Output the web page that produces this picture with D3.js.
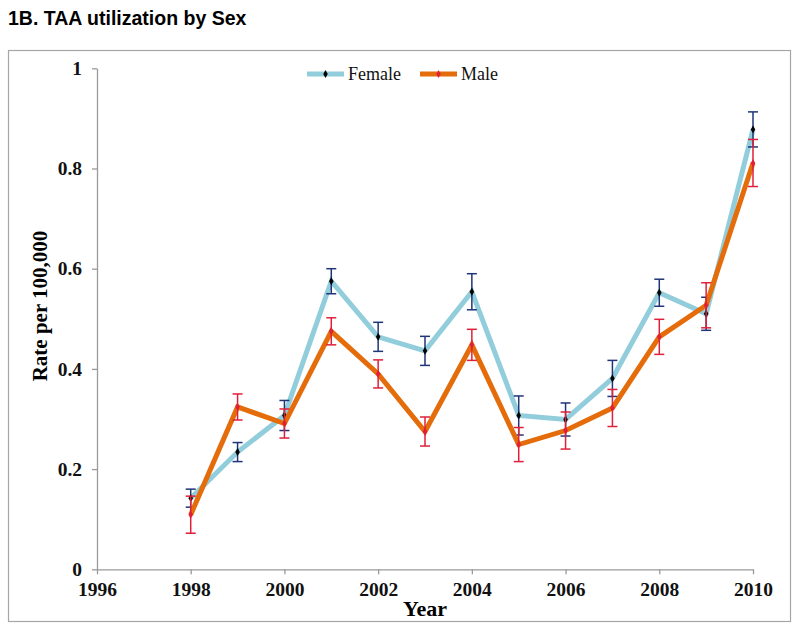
<!DOCTYPE html>
<html>
<head>
<meta charset="utf-8">
<script src="https://cdn.jsdelivr.net/npm/d3@7"></script>
<style>
  body { margin: 0; background: #fff; }
  svg { display: block; }
</style>
</head>
<body>
<svg id="chart" width="800" height="636"></svg>
<script>
var years = [1998, 1999, 2000, 2001, 2002, 2003, 2004, 2005, 2006, 2007, 2008, 2009, 2010];
var female = [0.142, 0.234, 0.307, 0.575, 0.464, 0.436, 0.554, 0.307, 0.299, 0.381, 0.552, 0.510, 0.878];
var femaleErr = [0.018, 0.019, 0.030, 0.025, 0.029, 0.029, 0.036, 0.039, 0.033, 0.036, 0.027, 0.033, 0.035];
var male = [0.109, 0.324, 0.291, 0.475, 0.390, 0.275, 0.448, 0.249, 0.277, 0.322, 0.464, 0.527, 0.811];
var maleErr = [0.037, 0.026, 0.029, 0.027, 0.028, 0.029, 0.031, 0.034, 0.037, 0.037, 0.035, 0.045, 0.047];
var xTicks = [1996, 1998, 2000, 2002, 2004, 2006, 2008, 2010];
var yTicks = [0, 0.2, 0.4, 0.6, 0.8, 1];

var svg = d3.select('#chart');
var axisColor = '#9a9a9a';
var tickFont = "'Liberation Serif', 'DejaVu Serif', serif";

// title and outer frame
svg.append('text')
    .attr('x', 8).attr('y', 25)
    .attr('font-family', "'Liberation Sans', Arial, sans-serif")
    .attr('font-weight', 'bold')
    .attr('font-size', 19.5)
    .text('1B. TAA utilization by Sex');

svg.append('rect')
    .attr('x', 8.5).attr('y', 50.5)
    .attr('width', 782).attr('height', 571)
    .attr('fill', 'none')
    .attr('stroke', '#a6a6a6')
    .attr('stroke-width', 1.2);

var x = d3.scaleLinear().domain([1996, 2010]).range([97, 753]);
var y = d3.scaleLinear().domain([0, 1]).range([569.3, 68.3]);

// axes
var xAxis = svg.append('g')
    .attr('transform', 'translate(0,' + y(0) + ')')
    .call(d3.axisBottom(x).tickValues(xTicks).tickFormat(d3.format('d')).tickSize(5).tickSizeOuter(0));
var yAxis = svg.append('g')
    .attr('transform', 'translate(' + x(1996) + ',0)')
    .call(d3.axisLeft(y).tickValues(yTicks).tickFormat(function(d) { return d === 0 || d === 1 ? d : d.toFixed(1); }).tickSize(5).tickSizeOuter(0));

[xAxis, yAxis].forEach(function(g) {
  g.select('.domain').attr('stroke', axisColor).attr('stroke-width', 1.3);
  g.selectAll('.tick line').attr('stroke', axisColor).attr('stroke-width', 1.3);
  g.selectAll('.tick text')
      .attr('fill', '#111')
      .attr('font-family', tickFont)
      .attr('font-weight', 'bold')
      .attr('font-size', 19.5);
});
xAxis.selectAll('.tick text').attr('y', 8).attr('dy', '0.95em');
yAxis.selectAll('.tick text').attr('x', -15);

svg.append('text')
    .attr('x', x(2003)).attr('y', 616)
    .attr('text-anchor', 'middle')
    .attr('font-family', tickFont)
    .attr('font-weight', 'bold')
    .attr('font-size', 22)
    .text('Year');

svg.append('text')
    .attr('transform', 'translate(47,306) rotate(-90)')
    .attr('text-anchor', 'middle')
    .attr('font-family', tickFont)
    .attr('font-weight', 'bold')
    .attr('font-size', 21)
    .text('Rate per 100,000');

// series
var series = [
  { name: 'Female', values: female, err: femaleErr, line: '#92cddc', bar: '#1f3578', marker: '#000' },
  { name: 'Male', values: male, err: maleErr, line: '#e46c0a', bar: '#e0203a', marker: '#e0203a' }
];

var line = d3.line()
    .x(function(d, i) { return x(years[i]); })
    .y(function(d) { return y(d); });

var diamond = d3.symbol().type(d3.symbolDiamond).size(18);

series.forEach(function(s) {
  var g = svg.append('g');
  g.append('path')
      .datum(s.values)
      .attr('d', line)
      .attr('fill', 'none')
      .attr('stroke', s.line)
      .attr('stroke-width', 5)
      .attr('stroke-linejoin', 'miter');

  var bars = g.selectAll('g.err')
      .data(s.values)
      .enter()
      .append('g')
      .attr('class', 'err')
      .attr('transform', function(d, i) { return 'translate(' + x(years[i]) + ',0)'; });
  bars.append('line')
      .attr('y1', function(d, i) { return y(d + s.err[i]); })
      .attr('y2', function(d, i) { return y(d - s.err[i]); })
      .attr('stroke', s.bar).attr('stroke-width', 1.5);
  bars.append('line')
      .attr('x1', -5).attr('x2', 5)
      .attr('y1', function(d, i) { return y(d + s.err[i]); })
      .attr('y2', function(d, i) { return y(d + s.err[i]); })
      .attr('stroke', s.bar).attr('stroke-width', 1.5);
  bars.append('line')
      .attr('x1', -5).attr('x2', 5)
      .attr('y1', function(d, i) { return y(d - s.err[i]); })
      .attr('y2', function(d, i) { return y(d - s.err[i]); })
      .attr('stroke', s.bar).attr('stroke-width', 1.5);
  bars.append('path')
      .attr('d', diamond)
      .attr('transform', function(d) { return 'translate(0,' + y(d) + ')'; })
      .attr('fill', s.marker);
});

// legend
var legend = svg.append('g');
var legendX = [307, 420];
series.forEach(function(s, i) {
  var lg = legend.append('g').attr('transform', 'translate(' + legendX[i] + ',74)');
  lg.append('line')
      .attr('x1', 0).attr('x2', 37)
      .attr('stroke', s.line).attr('stroke-width', 5);
  lg.append('path')
      .attr('d', diamond)
      .attr('transform', 'translate(18.5,0)')
      .attr('fill', s.marker);
  lg.append('text')
      .attr('x', 41).attr('y', 6)
      .attr('font-family', tickFont)
      .attr('font-size', 18)
      .attr('fill', '#111')
      .text(s.name);
});
</script>
</body>
</html>
